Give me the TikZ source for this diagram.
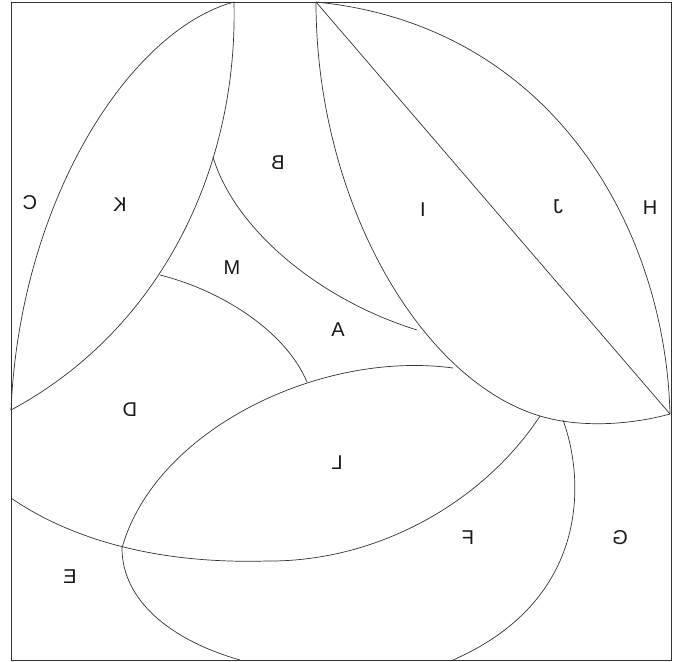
\documentclass[tikz,border=0pt]{standalone}
\usepackage{graphicx}
\usepackage{fontspec}
\setmainfont{Liberation Sans}
\begin{document}
\begin{tikzpicture}[x=1pt,y=-1pt,
  seam/.style={line width=0.7pt,draw=black!80},
  lab/.style={font=\fontsize{20}{22}\selectfont,text=black!90,inner sep=0pt}]
\useasboundingbox (0,0) rectangle (681,662);
% border
\draw[seam] (11,2) rectangle (671,660);
% key points
\coordinate (T1) at (234,2);
\coordinate (T2) at (316,2);
\coordinate (R) at (670,414);
\coordinate (KL) at (11,410);
\coordinate (BM) at (213,157);
\coordinate (MD) at (160,275);
\coordinate (IA) at (417,330);
\coordinate (DL) at (307,382);
\coordinate (LI) at (453,368);
\coordinate (LR) at (540,416);
\coordinate (LL) at (122,548);
\coordinate (DE) at (11,498);
\coordinate (LB) at (267,561);
\coordinate (FG) at (563,420);
\coordinate (EB) at (240,660);
\coordinate (GB) at (453,660);
% C/K
\draw[seam] (T1) .. controls (130,30) and (20,200) .. (KL);
% K right
\draw[seam] (T1) .. controls (238,170) and (160,330) .. (KL);
% B/M
\draw[seam] (BM) .. controls (235,230) and (320,300) .. (IA);
% M/D
\draw[seam] (MD) .. controls (220,290) and (285,330) .. (DL);
% I/J leaf lower boundary
\draw[seam] (T2) .. controls (316,200) and (420,380) .. (LR)
            .. controls (580,428) and (630,425) .. (R);
% I/J diagonal
\draw[seam] (T2) -- (R);
% J/H arc
\draw[seam] (T2) .. controls (550,25) and (665,225) .. (R);
% L top
\draw[seam] (LL) .. controls (155,430) and (320,350) .. (LI);
% D/E + L bottom
\draw[seam] (DE) .. controls (50,525) and (130,565) .. (LB)
            .. controls (380,562) and (485,500) .. (LR);
% E/F
\draw[seam] (LL) .. controls (122,600) and (170,640) .. (EB);
% G/F
\draw[seam] (FG) .. controls (585,480) and (590,600) .. (GB);
% labels
\node[lab] (lC) at (30,203) {\reflectbox{C}};
\node[lab] (lK) at (120,205) {\reflectbox{K}};
\node[lab] (lB) at (278,163) {\reflectbox{B}};
\node[lab] (lM) at (232,268) {M};
\node[lab] (lA) at (338,330) {A};
\node[lab] (lI) at (423,210) {I};
\node[lab] (lJ) at (558,207) {\reflectbox{J}};
\node[lab] (lH) at (650,208) {H};
\node[lab] (lD) at (130,410) {\reflectbox{D}};
\node[lab] (lL) at (337,463) {\reflectbox{L}};
\node[lab] (lF) at (468,538) {\reflectbox{F}};
\node[lab] (lG) at (620,538) {\reflectbox{G}};
\node[lab] (lE) at (70,577) {\reflectbox{E}};
\end{tikzpicture}
\end{document}
